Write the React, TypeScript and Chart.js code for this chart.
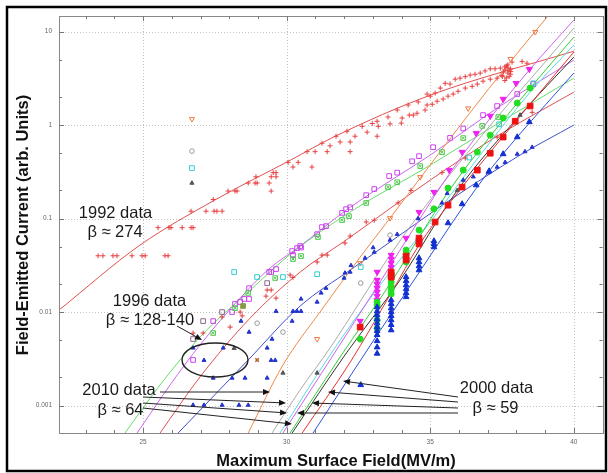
import { useEffect, useRef } from 'react';
import { Chart, registerables } from 'chart.js';

Chart.register(...registerables);

type P = [number, number];

const X_MIN = 22.07;
const X_MAX = 41.0;
const Y_MIN = 0.000508;
const Y_MAX = 14.7;
const X_TICKS = [25, 30, 35, 40];
const Y_TICKS = [0.001, 0.01, 0.1, 1, 10];

// ---------- 1992 data ----------
const pts1992: P[] = [
  [23.43, 0.04], [23.6, 0.04], [23.95, 0.04], [24.09, 0.04], [24.61, 0.04], [24.96, 0.04], [25.07, 0.04], [25.76, 0.04], [25.87, 0.04],
  [25.52, 0.08], [25.9, 0.08], [25.97, 0.08], [26.36, 0.08], [26.67, 0.08], [26.74, 0.08],
  [26.67, 0.12], [27.19, 0.12], [27.47, 0.12], [27.57, 0.12], [27.75, 0.12], [27.44, 0.16],
  [27.96, 0.197], [28.2, 0.197], [28.27, 0.197], [29.46, 0.197],
  [28.66, 0.24], [28.9, 0.24], [28.97, 0.24], [29.39, 0.24],
  [28.93, 0.28], [29.46, 0.28], [29.63, 0.28], [29.53, 0.31], [29.63, 0.31],
  [30.05, 0.4], [30.22, 0.356], [30.4, 0.4], [30.88, 0.356], [30.71, 0.52], [30.99, 0.52], [31.23, 0.64], [31.41, 0.52],
  [31.51, 0.6], [31.72, 0.76], [31.86, 0.66], [32.21, 0.66], [32.21, 0.52], [32.1, 0.86], [32.38, 0.76], [32.8, 0.84], [33.15, 0.76],
  [32.63, 0.97], [32.98, 1.04], [33.15, 1.1], [33.19, 0.97], [33.53, 1.22], [33.6, 1.03], [33.85, 1.45], [34.02, 1.19], [33.99, 1.05],
  [34.23, 1.64], [34.27, 1.28], [34.41, 1.28], [34.54, 1.34], [34.58, 1.77], [34.82, 1.45], [34.89, 1.64], [34.89, 2.15],
  [35.0, 2.04], [35.17, 2.2], [35.35, 2.49], [35.52, 2.8], [35.69, 2.75], [35.87, 3.1], [36.04, 3.18], [36.22, 3.3], [36.39, 3.43],
  [36.56, 3.5], [36.74, 3.6], [36.91, 3.8], [37.09, 4.0], [37.26, 4.0], [37.44, 4.07],
  [35.07, 1.67], [35.24, 1.8], [35.45, 1.9], [35.62, 2.04], [35.8, 2.15], [35.97, 2.3], [36.22, 2.49], [36.46, 2.6], [36.64, 2.75],
  [36.84, 2.95], [37.09, 3.1], [37.33, 3.18], [37.51, 3.3],
  [37.5, 3.4], [37.55, 3.7], [37.6, 3.9], [37.6, 4.2], [37.65, 3.2], [37.7, 3.6], [37.7, 4.4], [37.75, 3.8], [37.8, 4.0], [37.75, 3.3],
  [37.8, 3.5], [37.6, 3.0], [37.7, 4.1], [37.8, 3.75], [37.65, 4.3],
  [37.85, 4.72], [38.2, 4.8], [38.37, 4.6],
];
const fit1992: P[] = [[22.07, 0.0105], [24.89, 0.052], [27.5, 0.158], [30.12, 0.42], [31.69, 0.76], [35.0, 2.09], [40.0, 6.18]];

// ---------- 1996 data ----------
const violetSq: P[] = [
  [26.74, 0.00307], [27.44, 0.008], [28.1, 0.01], [28.2, 0.0122], [28.38, 0.0128], [28.52, 0.0138], [28.69, 0.0138], [28.69, 0.018],
  [29.46, 0.0268], [29.63, 0.0288], [29.39, 0.0268], [30.19, 0.0449], [30.36, 0.0483], [30.47, 0.0508], [30.22, 0.0407], [30.5, 0.049],
  [31.06, 0.068], [31.23, 0.081], [31.37, 0.083], [31.93, 0.115], [32.07, 0.126], [32.21, 0.132], [32.77, 0.178], [33.05, 0.207],
  [33.57, 0.285], [33.85, 0.31], [34.37, 0.41], [34.61, 0.465], [35.1, 0.58], [35.69, 0.73], [36.15, 0.92], [36.84, 1.28],
  [37.33, 1.6], [38.03, 2.15], [38.59, 2.75],
];
const graySq: P[] = [[26.74, 0.00514], [27.09, 0.008], [27.75, 0.01], [29.32, 0.0204]];
const fitViolet: P[] = [[24.79, 0.000508], [25.94, 0.00166], [26.98, 0.00444], [28.38, 0.0141], [29.42, 0.0296], [30.33, 0.0472], [32.21, 0.132], [35.0, 0.478], [37.44, 1.6], [40.0, 4.96]];

const greenX: P[] = [
  [27.44, 0.00596], [28.2, 0.011], [28.66, 0.016], [29.6, 0.0231], [30.22, 0.0369], [30.5, 0.0397], [31.09, 0.0634], [31.93, 0.0964],
  [32.17, 0.106], [32.77, 0.147], [33.53, 0.217], [33.85, 0.245], [34.65, 0.364], [35.41, 0.514], [36.15, 0.726], [36.81, 0.98], [37.37, 1.22],
];
const oliveSq: P[] = [[28.48, 0.0116]];
const fitGreen: P[] = [[24.37, 0.000508], [25.59, 0.00166], [26.98, 0.0054], [28.73, 0.0172], [30.22, 0.0438], [32.21, 0.1175], [35.0, 0.373], [37.44, 1.08], [40.0, 3.18]];

const red1996: P[] = [
  [26.74, 0.00596], [27.09, 0.00596], [27.75, 0.00885], [28.03, 0.0069], [28.38, 0.01], [28.45, 0.0091], [29.32, 0.0172], [29.46, 0.0172],
  [29.28, 0.0148], [29.63, 0.0141], [30.12, 0.0249], [30.22, 0.0235], [31.06, 0.0343], [31.23, 0.0407], [31.41, 0.0407], [32.03, 0.0547],
  [32.21, 0.065], [32.77, 0.092], [33.05, 0.096], [33.88, 0.147], [34.33, 0.2], [35.41, 0.31], [36.22, 0.444], [37.33, 0.745], [38.55, 1.37],
];
const fitRed1996: P[] = [[25.59, 0.000508], [26.98, 0.00202], [28.73, 0.00863], [30.47, 0.0268], [31.97, 0.0561], [35.0, 0.258], [37.44, 0.8], [40.0, 2.25]];

const blue1996: P[] = [
  [26.74, 0.00101], [27.12, 0.00101], [27.75, 0.00101], [28.34, 0.00101], [28.66, 0.00101],
  [27.44, 0.00197], [28.1, 0.00197], [28.55, 0.00197], [29.32, 0.00197],
  [27.12, 0.00305], [29.46, 0.00305], [29.6, 0.00305],
  [26.74, 0.00413], [27.79, 0.00413], [29.32, 0.00413],
  [28.69, 0.0061], [28.41, 0.008], [29.49, 0.00514],
  [29.63, 0.0102], [30.22, 0.0102], [30.36, 0.0102], [30.5, 0.0102], [30.19, 0.008],
  [30.5, 0.0138], [31.06, 0.0128], [31.2, 0.016], [31.37, 0.018], [32.0, 0.0231], [32.03, 0.0262], [32.21, 0.0268], [32.24, 0.0315],
  [32.73, 0.0378], [33.01, 0.0489], [33.05, 0.0437], [33.6, 0.0589], [33.85, 0.068], [34.58, 0.1],
  [35.41, 0.147], [35.59, 0.186], [36.15, 0.258], [36.5, 0.28], [37.02, 0.31], [37.33, 0.356], [37.61, 0.4], [38.03, 0.49], [38.3, 0.52], [38.55, 0.58],
];
const fitBlue1996: P[] = [[26.22, 0.000508], [28.66, 0.00307], [30.47, 0.0116], [32.21, 0.0281], [33.6, 0.0561], [35.69, 0.158], [38.13, 0.478], [40.0, 1.0]];

// ---------- 2010 data ----------
const orangeTri: P[] = [[26.7, 1.16], [31.06, 0.00514], [32.56, 0.0334], [33.6, 0.101], [34.65, 0.278], [36.32, 1.51], [37.8, 5.1], [38.66, 9.9]];
const brownPt: P[] = [[28.97, 0.00307]];
const fitOrange: P[] = [[28.66, 0.000508], [29.87, 0.00271], [31.16, 0.01], [32.56, 0.0387], [33.6, 0.101], [34.65, 0.271], [36.32, 1.28], [37.78, 4.72], [39.1, 14.7]];

const grayCirc: P[] = [[26.7, 0.527], [28.97, 0.0076], [29.87, 0.0061], [32.58, 0.0204], [33.6, 0.0666]];
const fitGray: P[] = [[29.49, 0.000508], [30.47, 0.00147], [31.51, 0.00412], [32.59, 0.0134], [33.6, 0.0407], [35.1, 0.174], [37.19, 1.08], [39.0, 4.72], [40.0, 10.9]];

const cyanSq: P[] = [[26.7, 0.347], [28.17, 0.0268], [28.97, 0.0237], [29.87, 0.0237], [31.06, 0.0254], [32.58, 0.0303], [36.36, 0.45], [37.4, 1.02], [38.59, 2.8]];
const fitCyan: P[] = [[29.77, 0.000508], [31.51, 0.00347], [33.25, 0.0194], [35.0, 0.0918], [36.74, 0.478], [38.48, 2.25], [40.0, 7.18]];

const darkTri: P[] = [[26.7, 0.24], [28.17, 0.0041], [29.87, 0.00223], [31.06, 0.00223], [35.94, 0.2], [38.13, 1.28]];
const fitDark: P[] = [[30.19, 0.000508], [32.03, 0.00347], [33.95, 0.022], [35.94, 0.2], [38.13, 1.28], [40.0, 5.34]];

// ---------- 2000 data ----------
const magenta2000: P[] = [
  [33.15, 0.022], [33.15, 0.0199], [33.15, 0.0181], [33.15, 0.0164], [33.15, 0.0148], [33.15, 0.0134], [33.15, 0.0268], [32.56, 0.008],
  [33.64, 0.0407], [33.64, 0.0369], [33.64, 0.0334], [33.64, 0.0303], [34.16, 0.0618], [34.61, 0.117], [35.13, 0.192], [35.66, 0.33],
  [36.11, 0.514], [36.6, 0.82], [37.09, 1.25], [37.54, 1.9], [37.99, 2.81], [38.45, 3.97],
];
const fitMagenta2000: P[] = [[29.87, 0.000508], [31.51, 0.00307], [33.25, 0.0209], [34.61, 0.0964], [35.66, 0.299], [37.09, 1.19], [38.45, 3.88], [40.0, 13.3]];

const green2000: P[] = [
  [33.15, 0.0128], [33.15, 0.0119], [33.15, 0.0082], [33.15, 0.0067], [33.64, 0.0231], [33.64, 0.0209], [33.64, 0.019], [33.64, 0.0172],
  [33.64, 0.0156], [34.16, 0.046], [34.16, 0.0417], [34.16, 0.0378], [34.16, 0.0343], [34.61, 0.0753], [35.13, 0.127], [35.62, 0.212],
  [36.15, 0.33], [36.64, 0.514], [37.09, 0.78], [37.54, 1.19], [38.03, 1.72], [38.48, 2.49], [32.56, 0.00514],
];
const fitGreen2000: P[] = [[30.12, 0.000508], [31.86, 0.0033], [33.64, 0.0209], [34.68, 0.068], [35.62, 0.192], [37.09, 0.762], [38.48, 2.49], [40.0, 8.73]];

const red2000: P[] = [
  [33.64, 0.0268], [33.64, 0.0249], [33.64, 0.0236], [34.16, 0.0397], [34.16, 0.036], [34.61, 0.0618], [34.61, 0.0575], [34.61, 0.0535],
  [35.17, 0.0918], [35.62, 0.139], [36.11, 0.217], [36.64, 0.33], [37.09, 0.5], [37.54, 0.745], [37.96, 1.1], [38.48, 1.6], [32.56, 0.0069],
];
const fitRed2000: P[] = [[30.54, 0.000508], [32.21, 0.0029], [33.64, 0.016], [34.61, 0.052], [35.62, 0.139], [37.09, 0.514], [38.48, 1.68], [40.0, 6.04]];

const blue2000: P[] = [
  [33.15, 0.0113], [33.15, 0.0102], [33.15, 0.0093], [33.15, 0.0084], [33.15, 0.0076], [33.15, 0.0069], [33.15, 0.0063], [33.15, 0.0057],
  [33.15, 0.0049], [33.15, 0.0042], [33.15, 0.0036],
  [33.64, 0.0134], [33.64, 0.0122], [33.64, 0.011], [33.64, 0.01], [33.64, 0.0091], [33.64, 0.0082], [33.64, 0.0073], [33.64, 0.0064],
  [34.16, 0.0237], [34.16, 0.0215], [34.16, 0.0194], [34.16, 0.0176], [34.16, 0.016], [34.16, 0.0145],
  [34.61, 0.0378], [34.61, 0.0343], [34.61, 0.031], [34.61, 0.0281],
  [35.13, 0.0575], [35.13, 0.0535], [35.13, 0.0495],
  [35.62, 0.0895], [36.11, 0.143], [36.6, 0.228], [37.05, 0.322], [37.54, 0.49], [38.03, 0.745], [38.45, 1.08], [32.58, 0.00166],
];
const fitBlue2000: P[] = [[30.92, 0.000508], [33.15, 0.00568], [34.16, 0.0164], [35.13, 0.046], [36.11, 0.129], [37.05, 0.322], [38.03, 0.745], [40.0, 3.6]];

const FONT = "'Liberation Sans', Arial, sans-serif";

const toXY = (a: P[]) => a.map(([x, y]) => ({ x, y }));

function marks(data: P[], o: any) {
  return { type: 'scatter', data: toXY(data), showLine: false, borderWidth: 1, ...o };
}
function fitLine(data: P[], color: string) {
  return {
    type: 'scatter', data: toXY(data), showLine: true, borderColor: color, borderWidth: 1,
    pointRadius: 0, fill: false, cubicInterpolationMode: 'monotone',
  };
}

const annotations = {
  texts: [
    { t: '1992 data', x: 115.5, y: 213 },
    { t: 'β ≈ 274', x: 115, y: 232 },
    { t: '1996 data', x: 149.5, y: 301 },
    { t: 'β ≈ 128-140', x: 150, y: 320 },
    { t: '2010 data', x: 119, y: 390 },
    { t: 'β ≈ 64', x: 120.5, y: 410 },
    { t: '2000 data', x: 496.5, y: 388 },
    { t: 'β ≈ 59', x: 495.5, y: 408 },
  ],
  arrows: [
    [177, 326, 202, 340],
    [160, 392, 270, 392],
    [143, 397, 286, 403],
    [143, 403, 287, 413],
    [143, 408, 292, 424],
    [458, 397, 343, 381],
    [458, 402, 328, 392],
    [458, 408, 312, 403],
    [458, 413, 297, 413],
  ],
  ellipse: { cx: 215, cy: 360, rx: 33, ry: 17 },
};

const decor = {
  id: 'decor',
  beforeDatasetsDraw(chart: any) {
    const { ctx, chartArea: a, scales } = chart;
    const xs = scales.x, ys = scales.y;
    ctx.save();
    ctx.strokeStyle = '#c4c4c4';
    ctx.lineWidth = 1;
    ctx.setLineDash([1, 2]);
    for (const v of X_TICKS) {
      const px = Math.round(xs.getPixelForValue(v)) + 0.5;
      ctx.beginPath(); ctx.moveTo(px, a.top); ctx.lineTo(px, a.bottom); ctx.stroke();
    }
    for (const v of Y_TICKS) {
      const py = Math.round(ys.getPixelForValue(v)) + 0.5;
      ctx.beginPath(); ctx.moveTo(a.left, py); ctx.lineTo(a.right, py); ctx.stroke();
    }
    ctx.restore();
  },
  afterDatasetsDraw(chart: any) {
    const { ctx, chartArea: a, scales } = chart;
    const xs = scales.x, ys = scales.y;
    ctx.save();
    // plot frame
    ctx.strokeStyle = '#888';
    ctx.lineWidth = 1;
    ctx.strokeRect(Math.round(a.left) + 0.5, Math.round(a.top) + 0.5, Math.round(a.right - a.left), Math.round(a.bottom - a.top));
    // minor / major ticks
    ctx.strokeStyle = '#777';
    for (let v = 23; v <= 41; v++) {
      const px = Math.round(xs.getPixelForValue(v)) + 0.5;
      const len = v % 5 === 0 ? 5 : 3;
      ctx.beginPath();
      ctx.moveTo(px, a.bottom); ctx.lineTo(px, a.bottom - len);
      ctx.moveTo(px, a.top); ctx.lineTo(px, a.top + len);
      ctx.stroke();
    }
    for (let d = -4; d <= 1; d++) {
      for (const m of [1, 2, 5]) {
        const v = m * Math.pow(10, d);
        if (v < Y_MIN || v > Y_MAX) continue;
        const py = Math.round(ys.getPixelForValue(v)) + 0.5;
        const len = m === 1 ? 5 : 3;
        ctx.beginPath();
        ctx.moveTo(a.left, py); ctx.lineTo(a.left + len, py);
        ctx.moveTo(a.right, py); ctx.lineTo(a.right - len, py);
        ctx.stroke();
      }
    }
    // axis titles
    ctx.fillStyle = '#111';
    ctx.font = `bold 16.5px ${FONT}`;
    ctx.textAlign = 'center';
    ctx.textBaseline = 'middle';
    ctx.fillText('Maximum Surface Field(MV/m)', 336, 461);
    ctx.save();
    ctx.translate(23, 225);
    ctx.rotate(-Math.PI / 2);
    ctx.fillText('Field-Emitted Current (arb. Units)', 0, 0);
    ctx.restore();
    // annotation texts
    ctx.font = `16.5px ${FONT}`;
    ctx.fillStyle = '#1a1a1a';
    for (const t of annotations.texts) ctx.fillText(t.t, t.x, t.y);
    // arrows
    ctx.strokeStyle = '#222';
    ctx.fillStyle = '#111';
    ctx.lineWidth = 1;
    for (const [x1, y1, x2, y2] of annotations.arrows) {
      const ang = Math.atan2(y2 - y1, x2 - x1);
      const hl = 7, hw = 3;
      const bx = x2 - hl * Math.cos(ang), by = y2 - hl * Math.sin(ang);
      ctx.beginPath(); ctx.moveTo(x1, y1); ctx.lineTo(bx, by); ctx.stroke();
      ctx.beginPath();
      ctx.moveTo(x2, y2);
      ctx.lineTo(bx + hw * Math.sin(ang), by - hw * Math.cos(ang));
      ctx.lineTo(bx - hw * Math.sin(ang), by + hw * Math.cos(ang));
      ctx.closePath(); ctx.fill();
    }
    // ellipse
    const e = annotations.ellipse;
    ctx.lineWidth = 1.4;
    ctx.beginPath(); ctx.ellipse(e.cx, e.cy, e.rx, e.ry, 0, 0, Math.PI * 2); ctx.stroke();
    // outer frame
    ctx.strokeStyle = '#000';
    ctx.lineWidth = 2.5;
    ctx.strokeRect(7, 7, 599, 464);
    ctx.restore();
  },
};

export default function App() {
  const ref = useRef<HTMLCanvasElement>(null);
  useEffect(() => {
    document.body.style.margin = '0';
    const canvas = ref.current;
    if (!canvas) return;
    const datasets: any[] = [
      marks(blue2000, { pointStyle: 'triangle', pointRadius: 3.3, backgroundColor: '#1030d0', borderColor: '#1030d0' }),
      marks(red2000, { pointStyle: 'rect', pointRadius: 4, backgroundColor: '#ee1111', borderColor: '#ee1111' }),
      marks(green2000, { pointStyle: 'circle', pointRadius: 3, backgroundColor: '#22dd22', borderColor: '#22dd22' }),
      marks(magenta2000, { pointStyle: 'triangle', rotation: 180, pointRadius: 3.5, backgroundColor: '#ee22ee', borderColor: '#ee22ee' }),
      marks(darkTri, { pointStyle: 'triangle', pointRadius: 2.4, backgroundColor: '#555', borderColor: '#555' }),
      marks(cyanSq, { pointStyle: 'rect', pointRadius: 3.3, backgroundColor: 'rgba(255,255,255,0)', borderColor: '#33cccc' }),
      marks(grayCirc, { pointStyle: 'circle', pointRadius: 2.3, backgroundColor: 'rgba(255,255,255,0)', borderColor: '#999' }),
      marks(brownPt, { pointStyle: 'crossRot', pointRadius: 2.5, borderWidth: 1.5, borderColor: '#b06030' }),
      marks(orangeTri, { pointStyle: 'triangle', rotation: 180, pointRadius: 3, backgroundColor: 'rgba(255,255,255,0)', borderColor: '#f07a40' }),
      marks(blue1996, { pointStyle: 'triangle', pointRadius: 2.3, backgroundColor: '#2233cc', borderColor: '#2233cc' }),
      marks(red1996, { pointStyle: 'cross', pointRadius: 2.5, borderColor: '#e03a3a' }),
      marks(greenX, { pointStyle: 'crossRot', pointRadius: 2.2, borderColor: '#55cc55' }),
      marks(greenX, { pointStyle: 'rect', pointRadius: 3.3, backgroundColor: 'rgba(255,255,255,0)', borderColor: '#55cc55' }),
      marks(oliveSq, { pointStyle: 'rect', pointRadius: 3.3, backgroundColor: '#8a9a40', borderColor: '#8a9a40' }),
      marks(graySq, { pointStyle: 'rect', pointRadius: 3.3, backgroundColor: 'rgba(255,255,255,0)', borderColor: '#8a6a8a' }),
      marks(violetSq, { pointStyle: 'rect', pointRadius: 3.3, backgroundColor: 'rgba(255,255,255,0)', borderColor: '#cc44ee' }),
      marks(pts1992, { pointStyle: 'cross', pointRadius: 2.5, borderColor: '#e84040' }),
      fitLine(fitBlue2000, '#3050e0'),
      fitLine(fitRed2000, '#e83030'),
      fitLine(fitGreen2000, '#33cc33'),
      fitLine(fitMagenta2000, '#d060f0'),
      fitLine(fitDark, '#333333'),
      fitLine(fitCyan, '#55dddd'),
      fitLine(fitGray, '#aaaaaa'),
      fitLine(fitOrange, '#f08848'),
      fitLine(fitBlue1996, '#4050cc'),
      fitLine(fitRed1996, '#e05050'),
      fitLine(fitGreen, '#66dd66'),
      fitLine(fitViolet, '#cc66ee'),
      fitLine(fit1992, '#e05050'),
    ];
    const chart = new Chart(canvas, {
      type: 'scatter',
      data: { datasets },
      options: {
        responsive: false,
        animation: false,
        events: [],
        layout: { padding: { top: 16, right: 5, left: 0, bottom: 0 } },
        plugins: { legend: { display: false }, tooltip: { enabled: false } },
        scales: {
          x: {
            type: 'linear', min: X_MIN, max: X_MAX,
            grid: { display: false, drawTicks: false },
            border: { display: false },
            ticks: { font: { size: 6.5, family: FONT }, color: '#666', padding: 5, maxRotation: 0, autoSkip: false },
            afterBuildTicks: (s: any) => { s.ticks = X_TICKS.map((v) => ({ value: v })); },
            afterFit: (s: any) => { s.height = 40; },
          },
          y: {
            type: 'logarithmic', min: Y_MIN, max: Y_MAX,
            grid: { display: false, drawTicks: false },
            border: { display: false },
            ticks: { font: { size: 6.5, family: FONT }, color: '#666', padding: 7, autoSkip: false, callback: (v: any) => String(v) },
            afterBuildTicks: (s: any) => { s.ticks = Y_TICKS.map((v) => ({ value: v })); },
            afterFit: (s: any) => { s.width = 59; },
          },
        },
      } as any,
      plugins: [decor],
    });
    return () => chart.destroy();
  }, []);
  return (
    <div style={{ width: 608, height: 473 }}>
      <canvas ref={ref} width={608} height={473} style={{ display: 'block', width: 608, height: 473 }} />
    </div>
  );
}
